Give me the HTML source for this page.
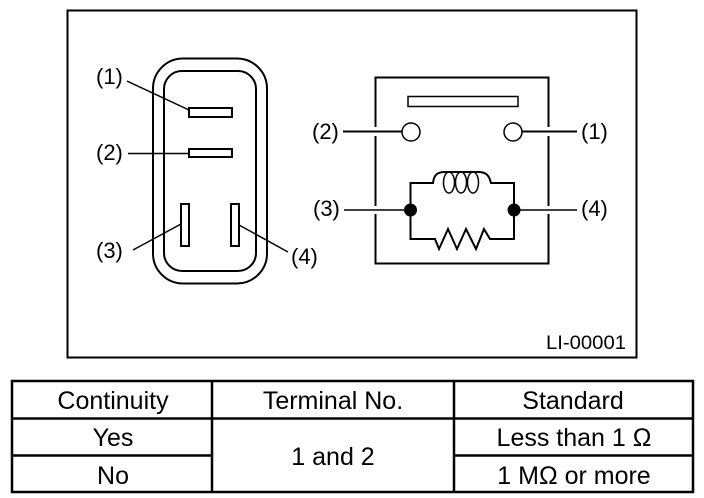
<!DOCTYPE html>
<html>
<head>
<meta charset="utf-8">
<style>
html,body{margin:0;padding:0;background:#fff}
svg{display:block}
text{font-family:"Liberation Sans",sans-serif;fill:#000}
</style>
</head>
<body>
<svg width="704" height="498" viewBox="0 0 704 498" xmlns="http://www.w3.org/2000/svg">
<rect width="704" height="498" fill="#fff"/>
<rect x="67.500" y="10.500" width="569" height="347" fill="none" stroke="#000" stroke-width="2"/>

<!-- Left connector -->
<g fill="none" stroke="#000">
<rect x="153" y="58.500" width="114" height="225" rx="30" stroke-width="2"/>
<rect x="164" y="71" width="92" height="200" rx="18" stroke-width="2"/>
<rect x="189" y="108" width="43" height="9" fill="#fff" stroke-width="2"/>
<rect x="189" y="149" width="43" height="8" fill="#fff" stroke-width="2"/>
<rect x="181" y="204" width="8" height="42" fill="#fff" stroke-width="2"/>
<rect x="231" y="204" width="8" height="42" fill="#fff" stroke-width="2"/>
<path d="M127 81L189 110M128 153.500H189M133 250L181 224M239 225L288 252" stroke-width="1.500"/>
</g>

<!-- Right circuit -->
<g fill="none" stroke="#000">
<rect x="375.500" y="77.500" width="173" height="186" stroke-width="2"/>
<path d="M375.500 127V136M375.500 206V214M548.500 127V136M548.500 206V214" stroke="#fff" stroke-width="3"/>
<rect x="408" y="96.500" width="110" height="10" fill="#fff" stroke-width="1.500"/>
<path d="M343 131.500H402M522 131.500H577" stroke-width="2"/>
<circle cx="411" cy="132" r="9" fill="#fff" stroke-width="1.500"/>
<circle cx="513" cy="132" r="9" fill="#fff" stroke-width="1.500"/>
<path d="M344 210H404M520 210H577" stroke-width="1.500"/>
<path d="M410.500 210V183H433C434 174 438 172 445 172H478C486 172 489 175 491 183H514V239H490L484 229L476 249L466 229L457 249L448 229L439 249L435 239H410.500V210" stroke-width="2"/>
<ellipse cx="449" cy="182.500" rx="5.500" ry="10.500" stroke-width="1.500"/>
<ellipse cx="461" cy="182.500" rx="5.500" ry="10.500" stroke-width="1.500"/>
<ellipse cx="473" cy="182.500" rx="5.500" ry="10.500" stroke-width="1.500"/>
<circle cx="410.500" cy="210" r="6.500" fill="#000" stroke="none"/>
<circle cx="514" cy="210" r="6.500" fill="#000" stroke="none"/>
</g>

<!-- Labels -->
<g font-size="22">
<text x="96" y="84">(1)</text>
<text x="96" y="160">(2)</text>
<text x="96" y="258">(3)</text>
<text x="291" y="264">(4)</text>
<text x="312" y="139">(2)</text>
<text x="581" y="139">(1)</text>
<text x="313" y="216">(3)</text>
<text x="581" y="216">(4)</text>
<text x="546" y="349" font-size="19" textLength="80" lengthAdjust="spacingAndGlyphs">LI-00001</text>
</g>

<!-- Table -->
<g fill="none" stroke="#000" stroke-width="2.500">
<rect x="12" y="381" width="681" height="111"/>
<path d="M212 381V492M454 381V492M12 418.500H693M12 455.500H212M454 455.500H693"/>
</g>
<g font-size="25" text-anchor="middle">
<text x="113" y="409">Continuity</text>
<text x="333" y="409">Terminal No.</text>
<text x="573" y="409">Standard</text>
<text x="113" y="446">Yes</text>
<text x="113" y="484">No</text>
<text x="333" y="465">1 and 2</text>
<text x="574" y="446">Less than 1 Ω</text>
<text x="574" y="484">1 MΩ or more</text>
</g>
</svg>
</body>
</html>
